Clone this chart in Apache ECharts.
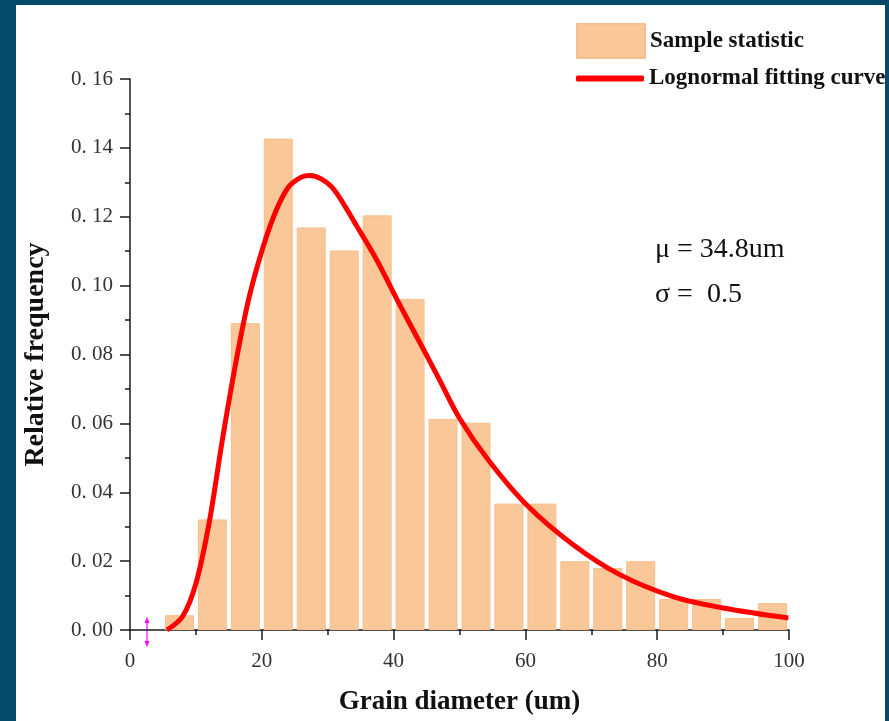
<!DOCTYPE html>
<html>
<head>
<meta charset="utf-8">
<script src="https://cdn.jsdelivr.net/npm/echarts@6/dist/echarts.min.js"></script>
<style>
  html, body { margin: 0; padding: 0; background: #03496a; }
  #panel { position: absolute; left: 16px; top: 5px; width: 869px; height: 716px; background: #ffffff; }
  #chart { position: absolute; left: 0; top: 0; width: 889px; height: 721px; }
</style>
</head>
<body>
<div id="panel"></div>
<div id="chart"></div>
<script>
// Histogram bins (grain diameter, um): bin centres and relative frequency
var binCenters = [7.5, 12.5, 17.5, 22.5, 27.5, 32.5, 37.5, 42.5, 47.5, 52.5, 57.5, 62.5, 67.5, 72.5, 77.5, 82.5, 87.5, 92.5, 97.5];
var binFreq    = [0.0043, 0.0321, 0.0891, 0.1427, 0.1169, 0.1102, 0.1204, 0.0961, 0.0613, 0.0602, 0.0367, 0.0367, 0.0200, 0.0180, 0.0200, 0.0090, 0.0090, 0.0035, 0.0078];

// Lognormal fitting curve
var curveX = [5.6, 8, 10, 12, 14, 16, 18, 20, 22, 24, 26, 27.3, 29, 31, 34.4, 37.4, 40.5, 44.5, 47, 50, 54.4, 60.2, 67.3, 74.4, 82.4, 90.0, 99.9];
var curveY = [0.0, 0.0040, 0.0135, 0.0310, 0.0550, 0.0770, 0.0960, 0.1100, 0.1210, 0.1285, 0.1315, 0.1320, 0.1310, 0.1278, 0.1173, 0.1076, 0.0960, 0.0816, 0.0725, 0.0615, 0.0493, 0.0363, 0.0247, 0.0160, 0.0097, 0.0064, 0.0035];

var yTicks = [0, 0.02, 0.04, 0.06, 0.08, 0.10, 0.12, 0.14, 0.16];
var xTicks = [0, 20, 40, 60, 80, 100];

var seriesNames = ['Sample statistic', 'Lognormal fitting curve'];
var fitText = ['\u03bc = 34.8um', '\u03c3 =  0.5'];

var barData = binCenters.map(function (c, i) { return [c, binFreq[i]]; });
var lineData = curveX.map(function (x, i) { return [x, curveY[i]]; });

var serif = '"Liberation Serif", "DejaVu Serif", serif';
var chart = echarts.init(document.getElementById('chart'), null, { renderer: 'canvas' });

chart.setOption({
  backgroundColor: 'transparent',
  animation: false,
  grid: { left: 130, right: 100, top: 79, bottom: 89, containLabel: false },
  legend: [
    {
      data: [{ name: seriesNames[0], icon: 'rect' }],
      left: 576, top: 23, padding: 0,
      itemWidth: 68, itemHeight: 34, itemGap: 0,
      textStyle: { fontFamily: serif, fontWeight: 'bold', fontSize: 23, color: '#111' },
      selectedMode: false
    },
    {
      data: [{ name: seriesNames[1], icon: 'roundRect', itemStyle: { color: '#ff0000' } }],
      left: 576, top: 67, padding: 0,
      itemWidth: 68, itemHeight: 6, itemGap: 0,
      textStyle: { fontFamily: serif, fontWeight: 'bold', fontSize: 23, color: '#111' },
      selectedMode: false
    }
  ],
  xAxis: {
    type: 'value',
    min: 0, max: 100, interval: 20,
    name: 'Grain diameter (um)',
    nameLocation: 'middle',
    nameGap: 59,
    nameTextStyle: { fontFamily: serif, fontWeight: 'bold', fontSize: 27, color: '#111' },
    axisLine: { show: true, lineStyle: { color: '#1a1a1a', width: 1.5 } },
    axisTick: { show: true, length: 10, lineStyle: { color: '#1a1a1a', width: 1.5 } },
    minorTick: { show: true, splitNumber: 2, length: 5, lineStyle: { color: '#1a1a1a', width: 1.5 } },
    axisLabel: { fontFamily: serif, fontSize: 21, color: '#333', margin: 21,
      formatter: function (v) { return xTicks.indexOf(v) >= 0 ? String(v) : ''; } },
    splitLine: { show: false }
  },
  yAxis: {
    type: 'value',
    min: 0, max: 0.16, interval: 0.02,
    name: 'Relative frequency',
    nameLocation: 'middle',
    nameGap: 80,
    nameRotate: 90,
    nameTextStyle: { fontFamily: serif, fontWeight: 'bold', fontSize: 28, color: '#111' },
    axisLine: { show: true, lineStyle: { color: '#1a1a1a', width: 1.5 } },
    axisTick: { show: true, length: 10, lineStyle: { color: '#1a1a1a', width: 1.5 } },
    minorTick: { show: true, splitNumber: 2, length: 5, lineStyle: { color: '#1a1a1a', width: 1.5 } },
    axisLabel: { fontFamily: serif, fontSize: 21, color: '#333', margin: 17,
      formatter: function (v) {
        var t = yTicks.filter(function (k) { return Math.abs(k - v) < 1e-9; });
        return t.length ? t[0].toFixed(2).replace('.', '. ') : '';
      } },
    splitLine: { show: false }
  },
  series: [
    {
      name: seriesNames[0],
      type: 'bar',
      data: barData,
      barWidth: 29,
      itemStyle: { color: '#fac898', borderColor: '#f6bf8d', borderWidth: 1 },
      z: 2
    },
    {
      name: seriesNames[1],
      type: 'line',
      data: lineData,
      smooth: 0.35,
      symbol: 'none',
      showSymbol: false,
      lineStyle: { color: '#ff0000', width: 5 },
      itemStyle: { color: '#ff0000' },
      z: 3
    }
  ],
  graphic: [
    { type: 'text', left: 655, top: 236, style: { text: fitText[0], fontFamily: serif, fontSize: 28, fill: '#111' } },
    { type: 'text', left: 655, top: 281, style: { text: fitText[1], fontFamily: serif, fontSize: 28, fill: '#111' } },
    { type: 'line', shape: { x1: 147, y1: 620, x2: 147, y2: 645 }, style: { stroke: '#ff00ff', lineWidth: 1.2 } },
    { type: 'polygon', shape: { points: [[147, 617], [144.5, 623], [149.5, 623]] }, style: { fill: '#ff00ff' } },
    { type: 'polygon', shape: { points: [[147, 647], [144.5, 641], [149.5, 641]] }, style: { fill: '#ff00ff' } }
  ]
});
</script>
</body>
</html>
